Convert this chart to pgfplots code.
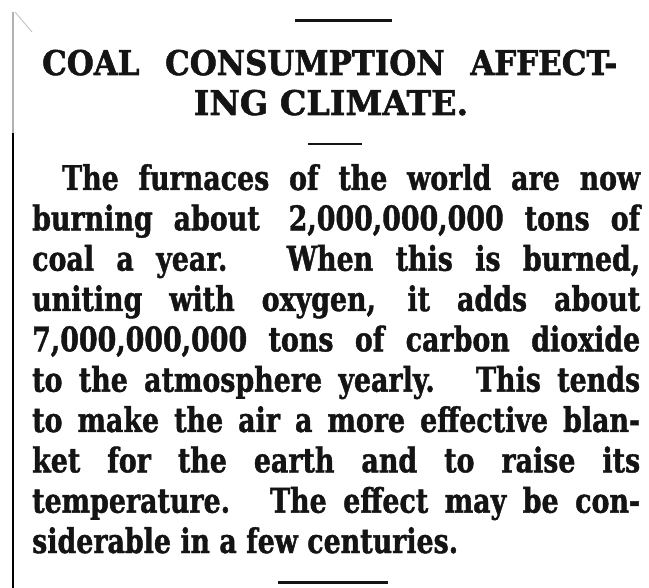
\documentclass[border=0pt]{standalone}
\usepackage{pgfplots}
\pgfplotsset{compat=1.18}
\usepackage{fontspec}
\setmainfont{DejaVu Serif}
\newfontfamily\bodyfont{DejaVu Serif Bold}[FakeStretch=0.79, FakeBold=1.2]
\newfontfamily\headfont{DejaVu Serif Bold}[FakeStretch=0.91, FakeBold=1.6]
\newfontfamily\headfontb{DejaVu Serif Bold}[FakeStretch=0.98, FakeBold=1.6]
\definecolor{ink}{HTML}{141414}
\tikzset{
  body/.style={anchor=base west, inner sep=0pt, text=ink,
    font=\bodyfont\fontsize{34}{40}\selectfont},
  head/.style={inner sep=0pt, text=ink,
    font=\headfont\fontsize{34}{40}\selectfont},
  headb/.style={inner sep=0pt, text=ink,
    font=\headfontb\fontsize{34}{40}\selectfont},
}
\begin{document}
\begin{tikzpicture}
\begin{axis}[
  width=649pt, height=588pt, scale only axis, hide axis,
  xmin=0, xmax=649, ymin=0, ymax=588, y dir=reverse, clip=false,
]
% left border and corner mark
\draw[line width=2.5pt, gray!60] (axis cs:13,12) -- (axis cs:13,133);
\draw[line width=2.5pt, black] (axis cs:13,133) -- (axis cs:13,588);
\draw[line width=1pt, gray!45] (axis cs:15,12) -- (axis cs:32,32);
% rules
\draw[line width=3pt, ink] (axis cs:295,21) -- (axis cs:392,21);
\draw[line width=2.5pt, ink] (axis cs:308,144) -- (axis cs:362,144);
\draw[line width=3pt, ink] (axis cs:278,582) -- (axis cs:388,582);
% title
\node[head, anchor=base west] at (axis cs:42,75) {\makebox[575pt][s]{COAL CONSUMPTION AFFECT-}};
\node[headb, anchor=base] at (axis cs:331,115) {ING CLIMATE.};
% body
\node[body] at (axis cs:62,190) {\makebox[578pt][s]{The furnaces of the world are now}};
\node[body] at (axis cs:32,230.3) {\makebox[608pt][s]{burning about\hspace{8pt} 2,000,000,000 tons of}};
\node[body] at (axis cs:32,270.7) {\makebox[608pt][s]{coal a year.\hspace{8pt} When this is burned,}};
\node[body] at (axis cs:32,311) {\makebox[608pt][s]{uniting with oxygen, it adds about}};
\node[body] at (axis cs:32,351.3) {\makebox[608pt][s]{7,000,000,000 tons of carbon dioxide}};
\node[body] at (axis cs:32,391.7) {\makebox[608pt][s]{to the atmosphere yearly.\hspace{8pt} This tends}};
\node[body] at (axis cs:32,432) {\makebox[608pt][s]{to make the air a more effective blan-}};
\node[body] at (axis cs:32,472.3) {\makebox[608pt][s]{ket for the earth and to raise its}};
\node[body] at (axis cs:32,512.7) {\makebox[608pt][s]{temperature.\hspace{6pt} The effect may be con-}};
\node[body] at (axis cs:32,553) {siderable in a few centuries.};
\end{axis}
\pgfresetboundingbox
\path[use as bounding box] (0,0) rectangle (649pt,588pt);
\end{tikzpicture}
\end{document}
